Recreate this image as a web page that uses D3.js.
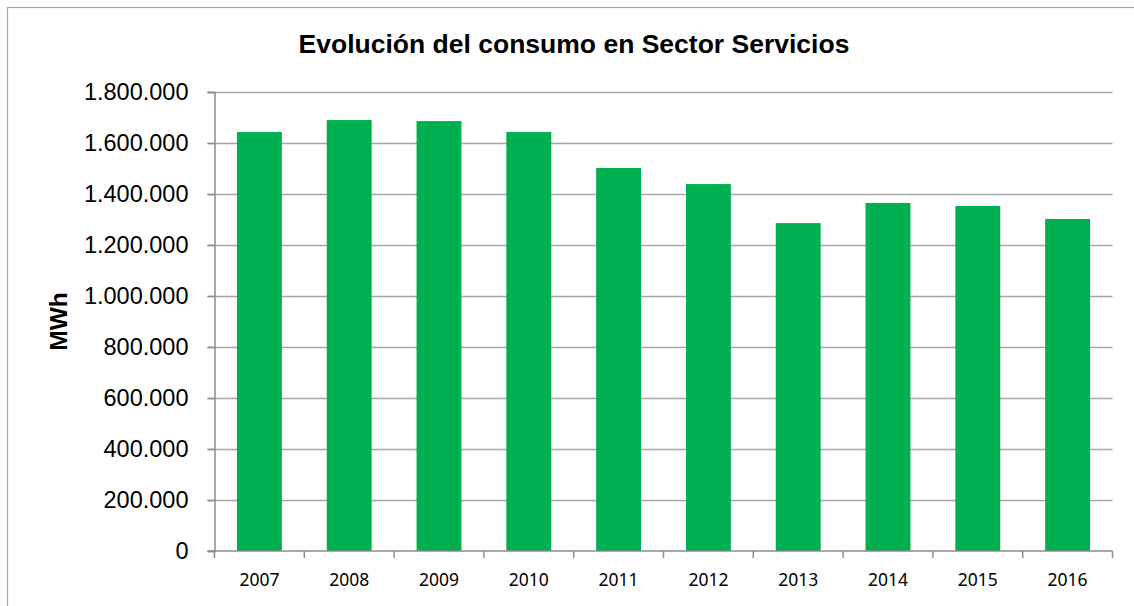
<!DOCTYPE html>
<html>
<head>
<meta charset="utf-8">
<script src="https://cdn.jsdelivr.net/npm/d3@7"></script>
<style>
  body { margin: 0; background: #fff; }
  svg { display: block; }
</style>
</head>
<body>
<svg id="chart" width="1134" height="606"></svg>
<script>
// data
const years = ["2007", "2008", "2009", "2010", "2011", "2012", "2013", "2014", "2015", "2016"];
const consumo = [1643000, 1690000, 1686000, 1643000, 1502000, 1439000, 1286000, 1365000, 1353000, 1302000];
const yTicks = [0, 200000, 400000, 600000, 800000, 1000000, 1200000, 1400000, 1600000, 1800000];

const svg = d3.select("#chart");
const margins = { top: 92, right: 1134 - 1112.5, bottom: 606 - 551, left: 214.5 };
const width = 1134, height = 606;

// outer frame (right/bottom edges fall outside the picture)
svg.append("rect")
  .attr("x", 7.5).attr("y", 7.5)
  .attr("width", 1140).attr("height", 620)
  .attr("fill", "none")
  .attr("stroke", "#a6a6a6")
  .attr("stroke-width", 1.2);

const x = d3.scaleBand()
  .domain(years)
  .range([margins.left, width - margins.right])
  .paddingInner(0.5)
  .paddingOuter(0.25);

const y = d3.scaleLinear()
  .domain([0, 1800000])
  .range([height - margins.bottom, margins.top]);

const fmt = (v) => v === 0 ? "0" : d3.format(",")(v).replace(/,/g, ".");

// gridlines
svg.append("g")
  .selectAll("line")
  .data(yTicks.filter(d => d > 0))
  .join("line")
  .attr("x1", margins.left - 7)
  .attr("x2", width - margins.right)
  .attr("y1", d => Math.round(y(d)) + 0.5)
  .attr("y2", d => Math.round(y(d)) + 0.5)
  .attr("stroke", "#a6a6a6")
  .attr("stroke-width", 1.5);

// bars
svg.append("g")
  .selectAll("rect")
  .data(years)
  .join("rect")
  .attr("x", d => x(d))
  .attr("width", x.bandwidth())
  .attr("y", (d, i) => y(consumo[i]))
  .attr("height", (d, i) => y(0) - y(consumo[i]))
  .attr("fill", "#00b050");

// y axis
const yAxis = svg.append("g")
  .attr("transform", `translate(${margins.left},0)`)
  .call(d3.axisLeft(y).tickValues(yTicks).tickFormat(fmt).tickSize(7).tickPadding(19));
yAxis.select(".domain").attr("stroke", "#8c8c8c").attr("stroke-width", 1.5);
yAxis.selectAll(".tick line").attr("stroke", "#8c8c8c").attr("stroke-width", 1.5);
yAxis.selectAll(".tick text")
  .attr("font-family", "Liberation Sans, Arial, sans-serif")
  .attr("font-size", 23.5)
  .attr("fill", "#000");

// x axis: ticks on category boundaries
const bounds = years.map(d => x(d) - x.step() * x.paddingInner() / 2);
bounds.push(width - margins.right);
svg.append("line")
  .attr("x1", margins.left - 7).attr("x2", width - margins.right)
  .attr("y1", y(0)).attr("y2", y(0))
  .attr("stroke", "#8c8c8c").attr("stroke-width", 1.5);
svg.append("g")
  .selectAll("line")
  .data(bounds)
  .join("line")
  .attr("x1", d => d).attr("x2", d => d)
  .attr("y1", y(0)).attr("y2", y(0) + 7)
  .attr("stroke", "#8c8c8c").attr("stroke-width", 1.5);
svg.append("g")
  .selectAll("text")
  .data(years)
  .join("text")
  .attr("x", d => x(d) + x.bandwidth() / 2)
  .attr("y", y(0) + 35)
  .attr("text-anchor", "middle")
  .attr("font-family", "Noto Sans, sans-serif")
  .attr("font-size", 17.5)
  .attr("fill", "#000")
  .text(d => d);

// y axis title
svg.append("text")
  .attr("transform", `translate(67,${(y(0) + y(1800000)) / 2}) rotate(-90)`)
  .attr("text-anchor", "middle")
  .attr("font-family", "Liberation Sans, Arial, sans-serif")
  .attr("font-weight", "bold")
  .attr("font-size", 24.5)
  .attr("fill", "#000")
  .text("MWh");

// chart title
svg.append("text")
  .attr("x", 574)
  .attr("y", 53)
  .attr("text-anchor", "middle")
  .attr("font-family", "Liberation Sans, Arial, sans-serif")
  .attr("font-weight", "bold")
  .attr("font-size", 26.5)
  .attr("fill", "#000")
  .text("Evolución del consumo en Sector Servicios");
</script>
</body>
</html>
